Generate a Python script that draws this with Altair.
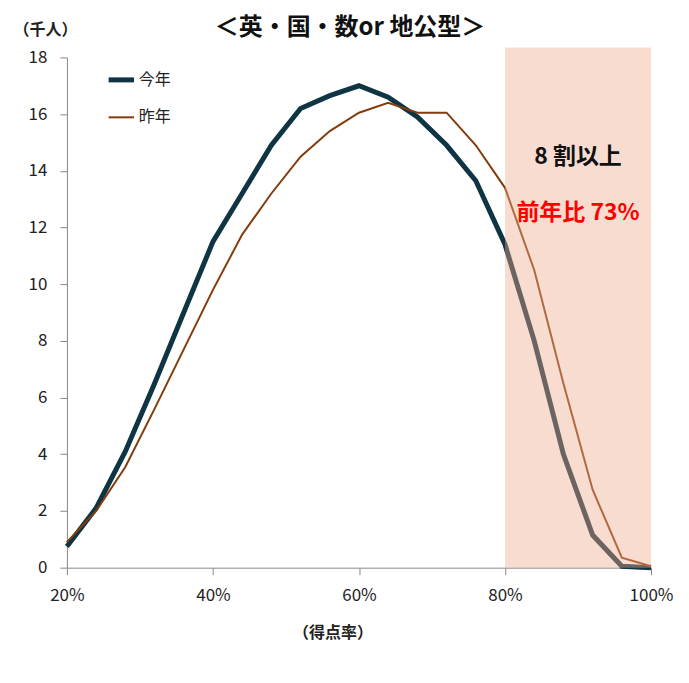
"""Score-rate distribution: this year vs last year (英・国・数or 地公型)"""

import altair as alt
import pandas as pd

# Data
score_rate = [20, 24, 28, 32, 36, 40, 44, 48, 52, 56, 60, 64, 68, 72, 76, 80, 84, 88, 92, 96, 100]
this_year = [0.75, 2.1, 4.1, 6.5, 9.0, 11.5, 13.2, 14.9, 16.2, 16.65, 17.0, 16.6, 15.9, 14.9, 13.65,
             11.4, 8.0, 4.0, 1.15, 0.05, 0.0]
last_year = [0.9, 2.0, 3.55, 5.6, 7.7, 9.8, 11.75, 13.2, 14.5, 15.4, 16.05, 16.4, 16.05, 16.05, 14.9,
             13.4, 10.5, 6.5, 2.75, 0.35, 0.05]
series_names = ["今年", "昨年"]
band = {"x": 80, "x2": 100, "y": 0, "y2": 18.35}

FONT = "Noto Sans CJK JP"

df = pd.concat([
    pd.DataFrame({"rate": score_rate, "count": this_year, "series": series_names[0]}),
    pd.DataFrame({"rate": score_rate, "count": last_year, "series": series_names[1]}),
])

x_scale = alt.Scale(domain=[20, 100], nice=False)
y_scale = alt.Scale(domain=[0, 18], nice=False)

legend_opts = dict(
    title=None,
    orient="none",
    legendX=39,
    legendY=7,
    symbolType="stroke",
    symbolSize=650,
    rowPadding=13,
    labelFontSize=16,
    labelFont=FONT,
    labelColor="#222",
    labelOffset=2,
)

lines = alt.Chart(df).mark_line().encode(
    x=alt.X(
        "rate:Q",
        scale=x_scale,
        axis=alt.Axis(
            values=[20, 40, 60, 80, 100],
            labelExpr="datum.value + '%'",
            labelFlush=False,
            labelFontSize=17,
            title="（得点率）",
            titleFontWeight="bold",
            titleFontSize=16,
            titleAngle=0,
            titleX=266,
            titleY=65,
            titleBaseline="middle",
            labelPadding=13,
        ),
    ),
    y=alt.Y(
        "count:Q",
        scale=y_scale,
        axis=alt.Axis(
            values=list(range(0, 19, 2)),
            labelFontSize=17,
            title="（千人）",
            titleFontWeight="bold",
            titleFontSize=16,
            titleAngle=0,
            titleAlign="center",
            titleBaseline="middle",
            titleX=-22,
            titleY=-28,
            labelPadding=13,
        ),
    ),
    color=alt.Color(
        "series:N",
        scale=alt.Scale(domain=series_names, range=["#0f3443", "#843c0c"]),
        legend=alt.Legend(**legend_opts),
    ),
    strokeWidth=alt.StrokeWidth(
        "series:N",
        scale=alt.Scale(domain=series_names, range=[5, 2]),
        legend=alt.Legend(**legend_opts),
    ),
)

band_df = pd.DataFrame([band])
shade = alt.Chart(band_df).mark_rect(color="#f0aa8c", opacity=0.41, clip=False).encode(
    x="x:Q", x2="x2:Q", y=alt.Y("y:Q", scale=y_scale), y2="y2:Q"
)

notes = pd.DataFrame({
    "x": [90, 90],
    "y": [14.5, 12.5],
    "label": ["8 割以上", "前年比 73%"],
    "c": ["#111", "#ff0000"],
})
note_text = alt.Chart(notes).mark_text(font=FONT, fontSize=23, fontWeight="bold").encode(
    x="x:Q", y=alt.Y("y:Q", scale=y_scale), text="label:N", color=alt.Color("c:N", scale=None)
)

chart = alt.layer(lines, shade, note_text).properties(
    width=585,
    height=511,
    padding={"left": 59, "top": 49, "right": 30, "bottom": 100},
    autosize=alt.AutoSizeParams(type="none"),
    title=alt.TitleParams(
        "＜英・国・数or 地公型＞",
        font=FONT,
        fontSize=24,
        fontWeight="bold",
        color="#111",
        anchor="middle",
        dx=-9,
        offset=0,
        dy=19,
    ),
).configure_view(stroke=None).configure_axis(
    grid=False,
    domainColor="#888",
    tickColor="#888",
    tickSize=7,
    labelFont=FONT,
    titleFont=FONT,
    labelColor="#222",
    titleColor="#222",
)

chart.save("out.html", embed_options={"renderer": "svg", "actions": False})
